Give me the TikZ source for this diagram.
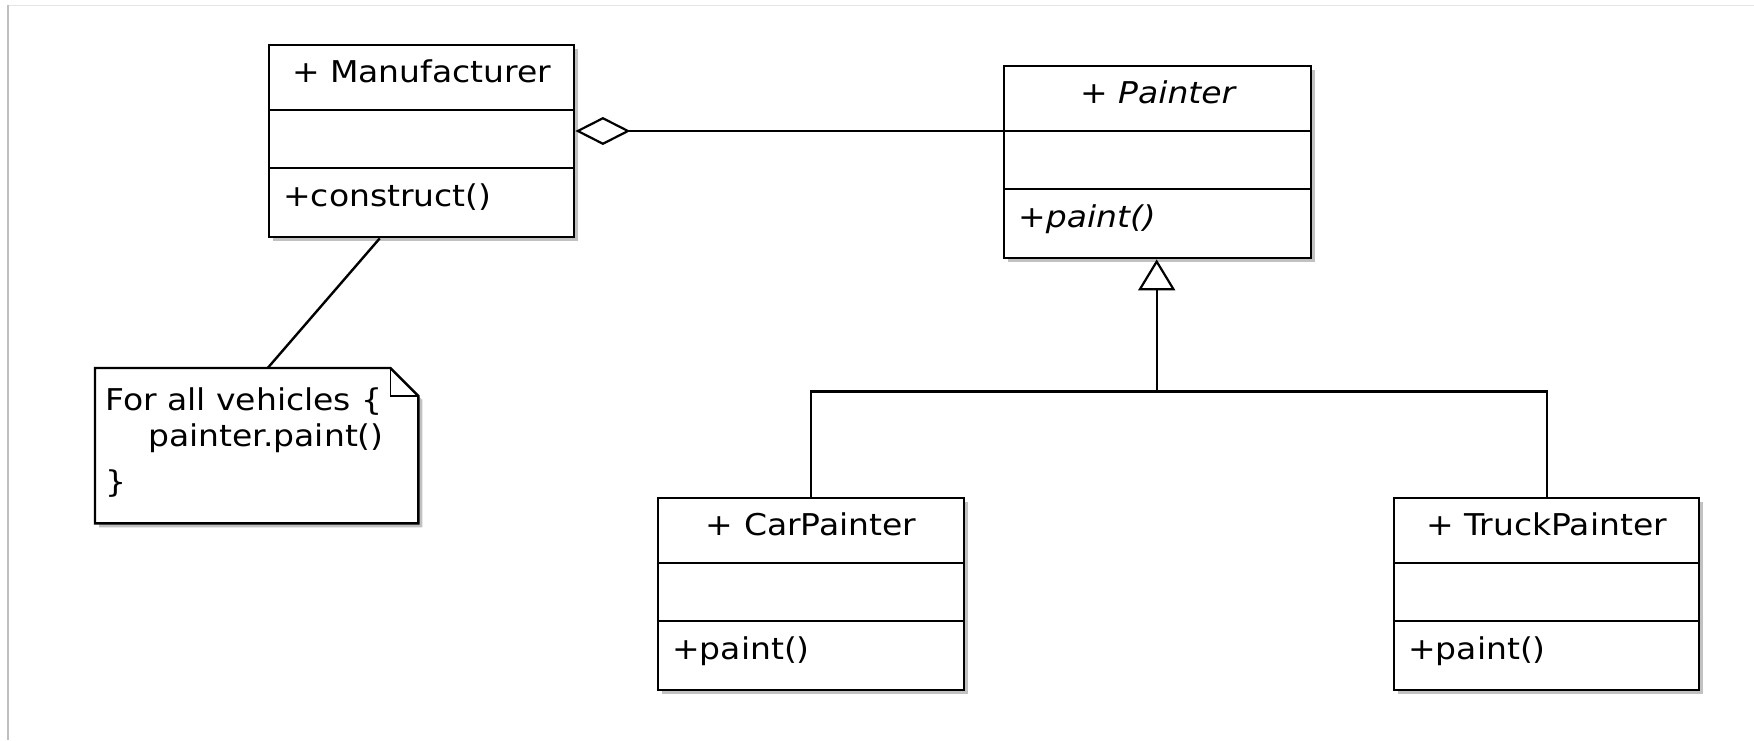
\documentclass[tikz,border=0pt]{standalone}
\usepackage{fontspec}
\setmainfont{DejaVu Sans}[FakeStretch=1.1]
\usetikzlibrary{arrows.meta,shadows,calc}
\newcommand\umlclass[6]{% name, left x, top y, width, title, member
  \node[umlbox, minimum width=#4] (#1) at (#2,#3) {};
  \draw[divider] ($(#1.north west)+(0,66)$) coordinate (#1-d1) -- ($(#1.north east)+(0,66)$);
  \draw[divider] ($(#1.north west)+(0,124)$) coordinate (#1-d2) -- ($(#1.north east)+(0,124)$);
  \node[umltitle] (#1-t) at ($(#1.north)+(0,38)$) {#5};
  \node[umlmember] (#1-m) at ($(#1.north west)+(15,162)$) {#6};
}
\begin{document}
\begin{tikzpicture}[x=1pt,y=-1pt,
  umlbox/.style={draw, line width=2.4pt, fill=white, minimum height=192pt, inner sep=0pt, anchor=north west,
    drop shadow={shadow xshift=4pt, shadow yshift=-4pt, opacity=0.4, fill=black!60}},
  umltitle/.style={anchor=base, inner sep=0pt, font=\fontsize{30}{36}\selectfont},
  umlmember/.style={anchor=base west, inner sep=0pt, font=\fontsize{30}{36}\selectfont},
  notetext/.style={anchor=base west, inner sep=0pt, font=\fontsize{30}{36}\selectfont},
  divider/.style={line width=2.2pt},
  conn/.style={line width=2.4pt},
]
\useasboundingbox (0,0) rectangle (1754,740);
\fill[white] (0,0) rectangle (1754,740);
\draw[line width=1pt, black!10] (8,5) -- (1754,5);
\draw[line width=1.5pt, black!25] (8,5) -- (8,740);

\umlclass{man}{268}{44}{305pt}{+ Manufacturer}{+construct()}
\umlclass{painter}{1003}{65}{307pt}{\itshape + Painter}{\itshape +paint()}
\umlclass{car}{657}{497}{306pt}{+ CarPainter}{+paint()}
\umlclass{truck}{1393}{497}{305pt}{+ TruckPainter}{+paint()}

% note
\node[minimum width=323pt, minimum height=155pt, inner sep=0pt, anchor=north west] (note) at (95,368) {};
\path[draw, line width=2.4pt, fill=white, line join=miter,
  drop shadow={shadow xshift=4pt, shadow yshift=-4pt, opacity=0.4, fill=black!60}]
  (note.north west) -- ($(note.north east)+(-28,0)$) coordinate (fold1)
  -- ($(note.north east)+(0,28)$) coordinate (fold2)
  -- (note.south east) -- (note.south west) -- cycle;
\draw[line width=1.6pt] (fold1) |- (fold2);
\node[notetext] (n1) at ($(note.north west)+(10,42)$) {For all vehicles \{};
\node[notetext] (n2) at ($(note.north west)+(53,78)$) {painter.paint()};
\node[notetext] (n3) at ($(note.north west)+(10,124)$) {\}};

% connectors
\draw[conn, {Diamond[open, length=55pt, width=28pt, line width=2.2pt]}-] (man.east |- painter-d1) -- (painter-d1);
\draw[conn] ($(man.south)+(-42,0)$) -- ($(note.north)+(11,0)$);
\coordinate (join) at ($(painter.south)+(-1,132)$);
\draw[conn, -{Triangle[open, length=31pt, width=37pt, line width=2.2pt]}] (join) -- (join |- painter.south);
\draw[conn] (car.north) |- (join) -| (truck.north);
\end{tikzpicture}
\end{document}
